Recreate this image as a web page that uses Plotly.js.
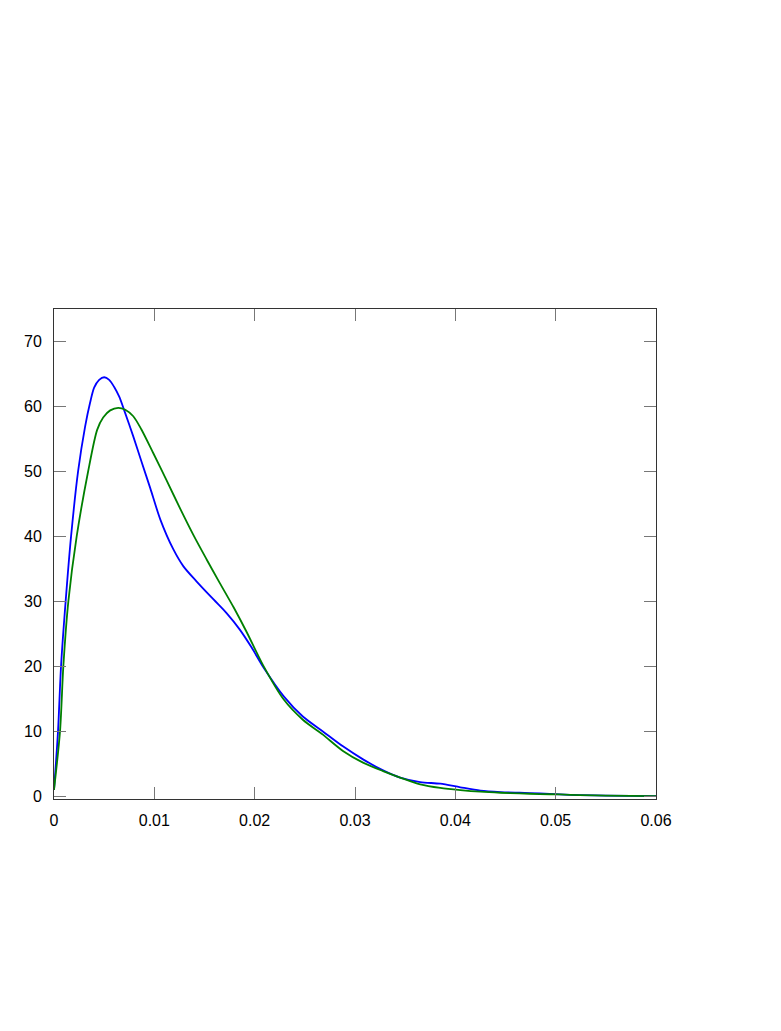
<!DOCTYPE html>
<html>
<head>
<meta charset="utf-8">
<script src="https://cdn.plot.ly/plotly-3.0.1.min.js"></script>
<style>html,body{margin:0;padding:0;background:#fff;}#chart{width:781px;height:1031px;}</style>
</head>
<body>
<div id="chart"></div>
<script>
// Blue series
const blueX = [0, 0.0004, 0.0007, 0.00116, 0.0017, 0.0024, 0.0031, 0.0036, 0.0040, 0.0045, 0.0050, 0.0055, 0.0060, 0.0065, 0.0070, 0.0079, 0.0087, 0.0096, 0.0106, 0.0119, 0.0129, 0.0142, 0.0159, 0.0172, 0.0185, 0.0197, 0.0209, 0.0229, 0.0248, 0.0268, 0.0288, 0.0308, 0.0328, 0.0345, 0.0365, 0.0385, 0.0405, 0.0425, 0.0445, 0.0464, 0.0484, 0.0504, 0.0524, 0.055, 0.06];
const blueY = [1, 10, 20, 30, 40, 50, 56.9, 60.6, 62.9, 64.1, 64.5, 64.1, 63.0, 61.5, 59.4, 55.4, 51.6, 47.4, 42.6, 38.0, 35.4, 33.1, 30.3, 28.2, 25.7, 22.9, 19.8, 15.4, 12.3, 10.0, 7.7, 5.7, 4.0, 2.9, 2.2, 1.95, 1.4, 0.9, 0.67, 0.56, 0.46, 0.3, 0.2, 0.12, 0.05];
// Green series
const greenX = [0, 0.0006, 0.00093, 0.00143, 0.00226, 0.0034, 0.0043, 0.0049, 0.0056, 0.0064, 0.0071, 0.0079, 0.0087, 0.0099, 0.0112, 0.0126, 0.0139, 0.0152, 0.0165, 0.0179, 0.0192, 0.0209, 0.0229, 0.0248, 0.0268, 0.0288, 0.0308, 0.0328, 0.0345, 0.0365, 0.0385, 0.0405, 0.0425, 0.0445, 0.0464, 0.0484, 0.0504, 0.0524, 0.055, 0.06];
const greenY = [1, 10, 20, 30, 40, 50, 56.4, 58.3, 59.4, 59.8, 59.5, 58.5, 56.5, 52.8, 48.7, 44.2, 40.2, 36.5, 32.9, 29.1, 25.3, 20.0, 14.9, 11.8, 9.5, 7.0, 5.2, 3.9, 2.9, 1.85, 1.3, 0.97, 0.72, 0.56, 0.46, 0.36, 0.3, 0.2, 0.12, 0.05];
// Tick values / labels
const xTickVals = [0, 0.01, 0.02, 0.03, 0.04, 0.05, 0.06];
const xTickText = ['0', '0.01', '0.02', '0.03', '0.04', '0.05', '0.06'];
const yTickVals = [0, 10, 20, 30, 40, 50, 60, 70];
const yTickText = ['0', '10', '20', '30', '40', '50', '60', '70'];

const traces = [
  {x: blueX, y: blueY, type: 'scatter', mode: 'lines', line: {color: '#0000ff', width: 1.8, shape: 'spline', smoothing: 0.8}, showlegend: false, hoverinfo: 'skip'},
  {x: greenX, y: greenY, type: 'scatter', mode: 'lines', line: {color: '#008000', width: 1.8, shape: 'spline', smoothing: 0.8}, showlegend: false, hoverinfo: 'skip'}
];

const axisCommon = {
  showgrid: false, zeroline: false, showline: true, linecolor: '#333', linewidth: 1,
  mirror: 'ticks', ticks: 'inside', ticklen: 12, tickcolor: '#777', tickwidth: 1,
  tickfont: {family: 'Liberation Sans, Arial, sans-serif', size: 16, color: '#000'}
};

const layout = {
  width: 781, height: 1031,
  margin: {l: 54, r: 125, t: 309, b: 232, pad: 0},
  paper_bgcolor: '#fff', plot_bgcolor: '#fff',
  xaxis: Object.assign({}, axisCommon, {range: [0, 0.06], tickmode: 'array', tickvals: xTickVals, ticktext: xTickText, ticklabelstandoff: 7}),
  yaxis: Object.assign({}, axisCommon, {range: [-0.4, 75], tickmode: 'array', tickvals: yTickVals, ticktext: yTickText, ticklabelstandoff: 8})
};

Plotly.newPlot('chart', traces, layout, {staticPlot: true, displayModeBar: false});
</script>
</body>
</html>
